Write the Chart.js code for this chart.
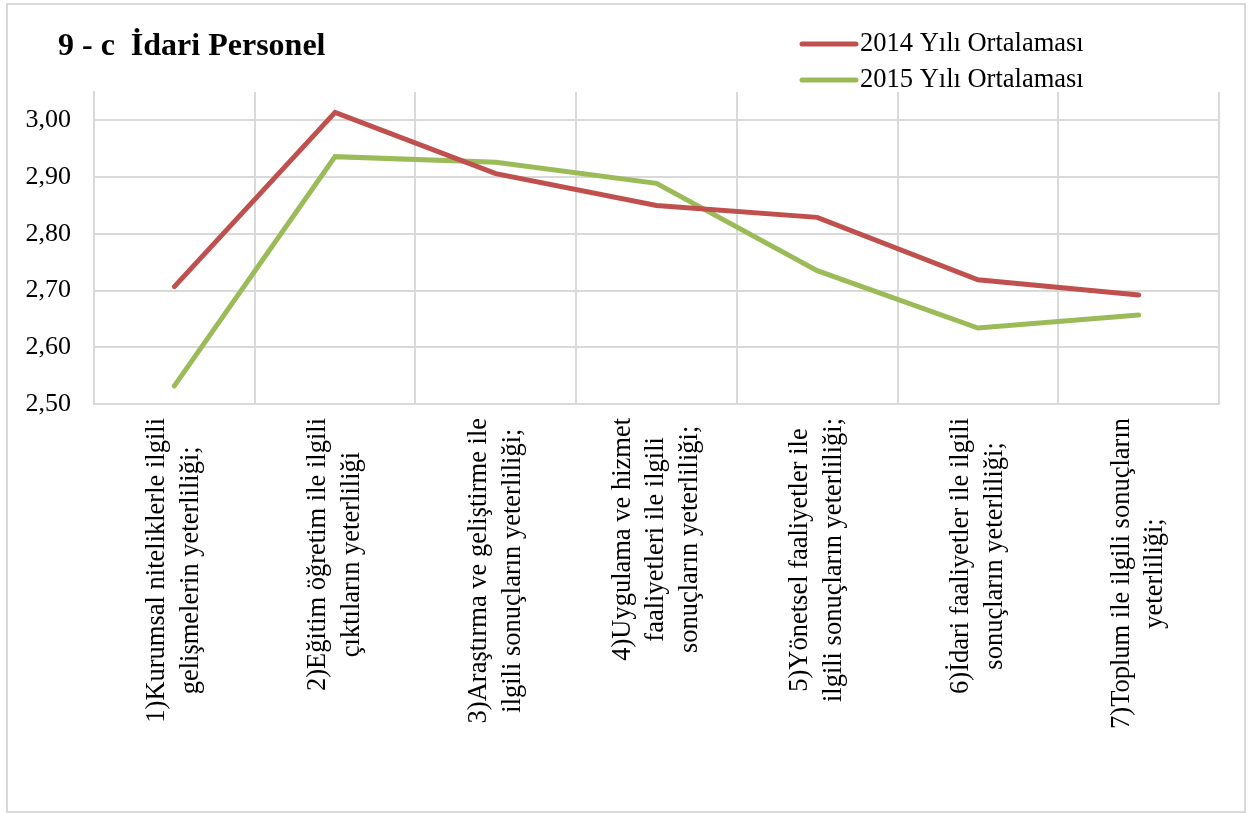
<!DOCTYPE html>
<html>
<head>
<meta charset="utf-8">
<script src="https://cdn.jsdelivr.net/npm/chart.js@4.4.1/dist/chart.umd.min.js"></script>
<style>
  html, body { margin: 0; padding: 0; background: #fff; }
  #frame {
    position: absolute; left: 6px; top: 3px;
    width: 1236px; height: 806px;
    border: 2px solid #d9d9d9;
  }
  canvas { display: block; }
</style>
</head>
<body>
<div id="frame"><canvas id="chart" width="1236" height="806"></canvas></div>
<script>
const titleText = '9 - c  İdari Personel';

const categories = [
  ['1)Kurumsal niteliklerle ilgili', 'gelişmelerin yeterliliği;'],
  ['2)Eğitim öğretim ile ilgili', 'çıktıların yeterliliği'],
  ['3)Araştırma ve geliştirme ile', 'ilgili sonuçların yeterliliği;'],
  ['4)Uygulama ve hizmet', 'faaliyetleri ile ilgili', 'sonuçların yeterliliği;'],
  ['5)Yönetsel faaliyetler ile', 'ilgili sonuçların yeterliliği;'],
  ['6)İdari faaliyetler ile ilgili', 'sonuçların yeterliliği;'],
  ['7)Toplum ile ilgili sonuçların', 'yeterliliği;']
];

const seriesNames = ['2014 Yılı Ortalaması', '2015 Yılı Ortalaması'];
const values2014 = [2.707, 3.014, 2.906, 2.850, 2.829, 2.719, 2.692];
const values2015 = [2.532, 2.936, 2.926, 2.889, 2.735, 2.634, 2.657];

const yMin = 2.5;
const yMax = 3.05;
const yStep = 0.1;

const serif = '"Liberation Serif", "Times New Roman", serif';
const gridColor = '#d9d9d9';

// title + two-row legend drawn in the header space
const header = {
  id: 'header',
  afterDraw(chart) {
    const ctx = chart.ctx;
    ctx.save();
    ctx.fillStyle = '#000';
    ctx.textAlign = 'left';
    ctx.textBaseline = 'alphabetic';
    ctx.font = 'bold 32px ' + serif;
    ctx.fillText(titleText, 50, 50);

    ctx.font = '26.5px ' + serif;
    ctx.textBaseline = 'middle';
    chart.data.datasets.forEach((ds, i) => {
      const y = 39 + i * 36;
      ctx.strokeStyle = ds.borderColor;
      ctx.lineWidth = 5;
      ctx.lineCap = 'round';
      ctx.beginPath();
      ctx.moveTo(794, y);
      ctx.lineTo(848, y);
      ctx.stroke();
      ctx.fillText(ds.label, 852, y);
    });
    ctx.restore();
  }
};

// centre the lines of each rotated x label on its tick
const centerLabels = {
  id: 'centerLabels',
  beforeDraw(chart) {
    const scale = chart.scales.x;
    const items = scale.getLabelItems();
    const ctx = chart.ctx;
    items.forEach((item, i) => {
      const opts = item.options || item;
      const lines = Array.isArray(item.label) ? item.label : [item.label];
      ctx.save();
      ctx.font = item.font.string;
      const maxW = Math.max(...lines.map(l => ctx.measureText(l).width));
      ctx.restore();
      const lh = item.font.lineHeight;
      opts.translation = [scale.getPixelForTick(i), scale.top + 14 + maxW / 2];
      opts.textAlign = 'center';
      opts.textBaseline = 'middle';
      item.textOffset = -(lines.length - 1) * lh / 2;
    });
  }
};

new Chart(document.getElementById('chart'), {
  type: 'line',
  data: {
    labels: categories,
    datasets: [{
      label: seriesNames[0],
      data: values2014,
      borderColor: '#c0504d',
      backgroundColor: '#c0504d',
      borderWidth: 5,
      borderCapStyle: 'round',
      pointRadius: 0,
      tension: 0
    }, {
      label: seriesNames[1],
      data: values2015,
      borderColor: '#9bbb59',
      backgroundColor: '#9bbb59',
      borderWidth: 5,
      borderCapStyle: 'round',
      pointRadius: 0,
      tension: 0
    }]
  },
  options: {
    responsive: false,
    animation: false,
    layout: { padding: { left: 18, right: 25, top: 87, bottom: 80 } },
    plugins: {
      legend: { display: false },
      title: { display: false },
      tooltip: { enabled: false }
    },
    scales: {
      x: {
        offset: true,
        afterFit: s => { s.height = 327; },
        grid: { offset: true, color: gridColor, lineWidth: 2, drawTicks: false },
        border: { color: gridColor, width: 2 },
        ticks: {
          autoSkip: false,
          minRotation: 90,
          maxRotation: 90,
          padding: 14,
          color: '#000',
          font: { family: serif, size: 26.5, lineHeight: 1.27 }
        }
      },
      y: {
        min: yMin,
        max: yMax,
        afterFit: s => { s.width = 68; },
        grid: { color: gridColor, lineWidth: 2, drawTicks: false },
        border: { color: gridColor, width: 2 },
        ticks: {
          stepSize: yStep,
          includeBounds: false,
          padding: 23,
          color: '#000',
          font: { family: serif, size: 26 },
          callback: v => v.toFixed(2).replace('.', ',')
        }
      }
    }
  },
  plugins: [centerLabels, header]
});
</script>
</body>
</html>
